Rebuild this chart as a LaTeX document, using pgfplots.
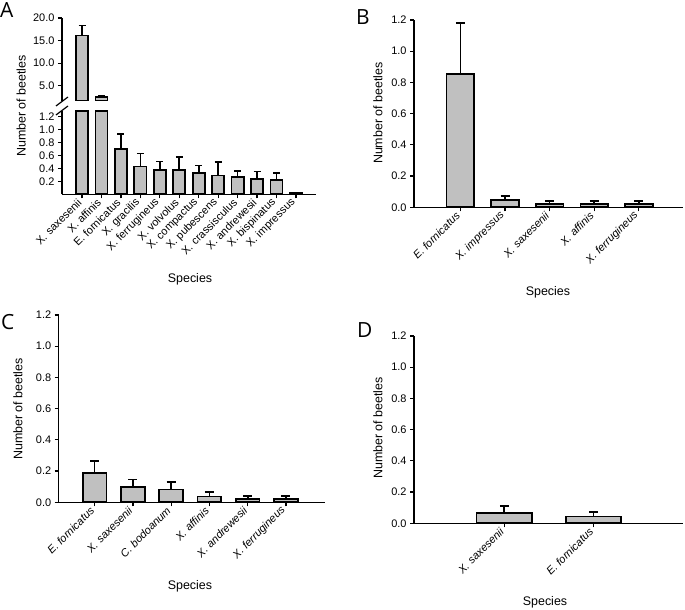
\documentclass[border=0pt]{standalone}
\usepackage{pgfplots}
\usepackage{pgfplotstable}
\pgfplotsset{compat=1.18}
\usepackage{fontspec}
\setmainfont{Liberation Sans}
\newfontfamily\letterfont{Open Sans}
\definecolor{barfill}{RGB}{192,192,192}

\pgfplotstableread{
idx val err
0 16.1 2.2
1 2.4 0.3
2 0.70 0.23
3 0.43 0.20
4 0.38 0.13
5 0.38 0.20
6 0.335 0.11
7 0.29 0.21
8 0.27 0.09
9 0.24 0.11
10 0.22 0.11
11 0.02 0.01
}\dataA
\pgfplotstableread{
idx val err
0 0.855 0.325
1 0.047 0.025
2 0.02 0.02
3 0.02 0.02
4 0.02 0.02
}\dataB
\pgfplotstableread{
idx val err
0 0.186 0.077
1 0.10 0.046
2 0.082 0.048
3 0.037 0.029
4 0.019 0.021
5 0.019 0.021
}\dataC
\pgfplotstableread{
idx val err
0 0.064 0.045
1 0.043 0.030
}\dataD

\pgfplotsset{
  beetle/.style={
    scale only axis,
    anchor=south west,
    axis x line*=bottom,
    axis y line*=left,
    axis line style={line width=1.5bp,-},
    every tick/.style={line width=1.2bp,black},
    major tick length=4bp,
    tick align=outside,
    font=\fontsize{11}{13}\selectfont,
    tick label style={font=\fontsize{11}{13}\selectfont},
    xticklabel style={rotate=45,anchor=east,font=\fontsize{11}{13}\selectfont\itshape},
    yticklabel style={/pgf/number format/.cd,fixed,fixed zerofill,precision=1},
    /pgf/number format/assume math mode=true,
    label style={font=\fontsize{12.5}{15}\selectfont},
    ytick={0,0.2,0.4,0.6,0.8,1.0,1.2},
    ymin=0, ymax=1.2,
    bar width=0.62,
  },
}

\begin{document}
\begin{tikzpicture}
\useasboundingbox (0,0) rectangle (685bp,610bp);

% ---------- Panel A (broken axis) ----------
\begin{axis}[beetle,
  at={(62bp,415.7bp)}, width=254bp, height=83.3bp,
  xmin=-1.03, xmax=12.03, ymin=0, ymax=1.29,
  clip=false,
  ytick={0.2,0.4,0.6,0.8,1.0,1.2},
  xtick={0,...,11},
  xticklabels={X. saxesenii, X. affinis, E. fornicatus, X. gracilis, X. ferrugineus, X. volvolus, X. compactus, X. pubescens, X. crassisculus, X. andrewesii, X. bispinatus, X. impressus},
  xticklabel style={font=\fontsize{11}{13}\selectfont\upshape},
  xlabel={Species},
  xlabel style={at={(axis description cs:0.504,-1.017)},anchor=center},
  ylabel={Number of beetles},
  ylabel style={at={(axis description cs:-0.161,1.06)},anchor=center},
]
\addplot[ybar, bar shift=0pt, draw=black, fill=barfill, line width=1.8bp,
  restrict x to domain=0:1, y filter/.expression={min(y,1.29)}]
  table[x=idx,y=val]{\dataA};
\addplot[restrict x to domain=2:11, ybar, bar shift=0pt, draw=black, fill=barfill, line width=1.8bp,
    error bars/.cd, y dir=plus, y explicit,
    error bar style={line width=1.6bp,black},
    error mark options={rotate=90,line width=1.6bp,mark size=3.5bp,black}]
  table[x=idx,y=val,y error=err]{\dataA};
\end{axis}

\begin{axis}[beetle,
  at={(62bp,509bp)}, width=254bp, height=83bp,
  xmin=-1.03, xmax=12.03, ymin=1.6, ymax=20,
  axis x line=none,
  ytick={5,10,15,20},
]
\addplot[restrict x to domain=0:1, ybar, bar shift=0pt, draw=black, fill=barfill, line width=1.8bp,
    error bars/.cd, y dir=plus, y explicit,
    error bar style={line width=1.6bp,black},
    error mark options={rotate=90,line width=1.6bp,mark size=3.5bp,black}]
  table[x=idx,y=val,y error=err]{\dataA};
\end{axis}
\draw[line width=1.2bp] (56bp,504bp) -- (68bp,513bp);
\draw[line width=1.2bp] (56bp,495bp) -- (68bp,504bp);
\node[anchor=base west,inner sep=0pt,font=\letterfont\fontsize{21}{24}\selectfont] at (0bp,592bp) {A};

% ---------- Panel B ----------
\begin{axis}[beetle,
  at={(414bp,402.7bp)}, width=269bp, height=187.3bp,
  xmin=-1.04, xmax=4.99,
  xtick={0,...,4},
  xticklabels={E. fornicatus, X. impressus, X. saxesenii, X. affinis, X. ferrugineus},
  xlabel={Species},
  xlabel style={at={(axis description cs:0.498,-0.452)},anchor=center},
  ylabel={Number of beetles},
  ylabel style={at={(axis description cs:-0.134,0.503)},anchor=center},
]
\addplot[ybar, bar shift=0pt, draw=black, fill=barfill, line width=1.8bp,
    error bars/.cd, y dir=plus, y explicit,
    error bar style={line width=1.6bp,black},
    error mark options={rotate=90,line width=1.6bp,mark size=4.5bp,black}]
  table[x=idx,y=val,y error=err]{\dataB};
\end{axis}
\node[anchor=base west,inner sep=0pt,font=\letterfont\fontsize{21}{24}\selectfont] at (356bp,585bp) {B};

% ---------- Panel C ----------
\begin{axis}[beetle,
  at={(58.7bp,107.7bp)}, width=266.3bp, height=187.3bp,
  xmin=-0.94, xmax=6.02,
  xtick={0,...,5},
  xticklabels={E. fornicatus, X. saxesenii, C. bodoanum, X. affinis, X. andrewesii, X. ferrugineus},
  xlabel={Species},
  xlabel style={at={(axis description cs:0.493,-0.447)},anchor=center},
  ylabel={Number of beetles},
  ylabel style={at={(axis description cs:-0.153,0.498)},anchor=center},
]
\addplot[ybar, bar shift=0pt, draw=black, fill=barfill, line width=1.8bp,
    error bars/.cd, y dir=plus, y explicit,
    error bar style={line width=1.6bp,black},
    error mark options={rotate=90,line width=1.6bp,mark size=4.5bp,black}]
  table[x=idx,y=val,y error=err]{\dataC};
\end{axis}
\node[anchor=base west,inner sep=0pt,font=\letterfont\fontsize{21}{24}\selectfont] at (1bp,280bp) {C};

% ---------- Panel D ----------
\begin{axis}[beetle,
  at={(414bp,86.7bp)}, width=269bp, height=187.3bp,
  xmin=-1.01, xmax=2.0,
  xtick={0,1},
  xticklabels={X. saxesenii, E. fornicatus},
  xlabel={Species},
  xlabel style={at={(axis description cs:0.487,-0.42)},anchor=center},
  ylabel={Number of beetles},
  ylabel style={at={(axis description cs:-0.134,0.509)},anchor=center},
]
\addplot[ybar, bar shift=0pt, draw=black, fill=barfill, line width=1.8bp,
    error bars/.cd, y dir=plus, y explicit,
    error bar style={line width=1.6bp,black},
    error mark options={rotate=90,line width=1.6bp,mark size=4.5bp,black}]
  table[x=idx,y=val,y error=err]{\dataD};
\end{axis}
\node[anchor=base west,inner sep=0pt,font=\letterfont\fontsize{21}{24}\selectfont] at (357bp,272bp) {D};
\end{tikzpicture}
\end{document}
